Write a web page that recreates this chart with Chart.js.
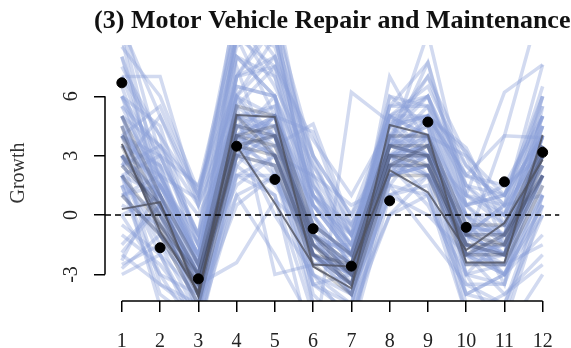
<!DOCTYPE html>
<html>
<head>
<meta charset="utf-8">
<script src="https://cdn.jsdelivr.net/npm/chart.js@4.4.0/dist/chart.umd.min.js"></script>
<style>
  html, body { margin: 0; padding: 0; background: #fff; }
  #wrap { width: 571px; height: 348px; }
</style>
</head>
<body>
<div id="wrap"><canvas id="growthChart" width="571" height="348"></canvas></div>
<script>
// horizon (months ahead)
const months = [1, 2, 3, 4, 5, 6, 7, 8, 9, 10, 11, 12];

// light blue simulated paths
const lightPaths = [
  [9.5, 1.5, -2.5, 9, 9, 0.5, -2, 3.5, 7.7, 1, 0.5, 7.6],
  [7, 7.0, 0.5, 6, 5, 4.2, -1, 2, 5, 3.4, -0.5, 3],
  [5.5, 3.5, -1, 7, 8, 2, -3, 4, 5, 0, -2, 4],
  [2, 3, 1.5, 6.5, 6, 1, -1.5, 5, 4, -0.5, -1, 3.5],
  [4, 2, -2, 5, 4, -1, -4, 3, 3.5, -2, -3, 2],
  [1, -1, -4.5, 3, 2.5, -3, -4.5, 2, 2.5, -3, -2.5, 1],
  [-2.5, -1.5, -5, 2, 3, -2, -3.5, 1.5, 1, -4, -4.5, 0],
  [-3, -2, -4, 1, 2, -4.5, -5, 0, 2, -1, -3, -1],
  [6, 4.5, -1.5, 8, 7, 0, -2.5, 4.5, 6, 1.5, 0, 5],
  [8, 2.5, -3, 9.5, 6.5, 2.5, -1, 3, 4, 0.5, -1.5, 4.5],
  [3.5, 1.5, -2.5, 4.5, 5.5, -0.5, -2, 3.5, 3, -1, -2, 3],
  [2.5, 0.5, -3.5, 3.5, 4, -1.5, -3, 2.5, 3.5, -1.5, -2.5, 2],
  [4.5, -0.5, -4, 4.5, 3, -2, -3.5, 3, 2, -2, -1.5, 3],
  [0, 1, -3, 3, 1.5, -1, -2.5, 2, 4, -2.5, -2, 2.5],
  [-1, -2.5, -5, 2.5, 4.5, -3, -4, 1, 1.5, -3.5, -3.5, 1.5],
  [5, 2, -2, 6, 9, 3, -2, 3.5, 3, 1, 6.2, 7.6],
  [3, 0, -3, 2.5, 1, -7, 6.2, 4.7, 5, 2, 4, 3.9],
  [2, -1, -3.5, -2.4, 0.75, -1, -3, 2, 2.5, -1, -2, 2],
  [1.5, -3, -4, 5.5, -3, -2.5, -2, 3, 1, -4, -3, 0.5],
  [6.5, 1, -3.5, 7.5, 2, -3.5, -3, 7.0, 3.5, -2, -1, 3],
  [4, 2.5, -2.5, 5, 3.5, 4.6, -0.5, 3.5, 9.2, 1, -0.5, 2.5],
  [-1.5, 0.5, -2, 4, 5, 0.5, -2, 5.5, 7.7, 0.5, 1, 4],
  [3, 1, -4, 3.5, 2.5, -2, -3, 4, 4, -2.5, -2.5, -1.5],
  [2, -1.5, -3.5, 5, 4.5, -1, -4, 2.5, 2, -1.5, -2, 4],
  [5, 0, -4.5, 6, 4, -2.5, -2.5, 3.5, 4.5, -3, -1, 2],
  [1, 1.5, -2, 4, 6, 0, -3.5, 4, 2, 0, -3.5, 5.5],
  [0.5, -0.5, -3, 2, 2, -1.5, -1.5, 2.5, 3, -1, 0.5, 1],
  [4, 3, -1.5, 5.5, 7.5, 1.5, -2, 3, 3, -0.5, -2, 3.5],
  [3.5, 2.5, 0, 4, 3, 2, 0.5, 1.5, 4, 3, -1.5, 2],
  [7.5, 4, -2.5, 10, 7, 1, -1, 4, 3, 0.5, 1.5, 5],
  [-2, -3.5, -4.5, 0.5, 2, -2, -4, 1, 0, -2, -4, -2],
  [3, 0.5, -3, 4.5, 4, -1, -2.5, 3, 3.5, -1.5, 4, 11],
  [2.5, 5, 1, 6, 8, 3, 0, 3.5, 5.5, 2.5, 0.5, 4.5],
  [4.5, 1, -4, 3.5, 5, -2, -3, 2.5, 2.5, -2, -2.5, 3],
  [1.5, 0, -3, 3, 3.5, -0.5, -3, 3.5, 3, -1, -1, 2.5],
  [-2.3, 1.5, -1, 4, 3, -1, -3, 2, 3, -1, -2, 2],
  [-1.9, 0.5, -3, 3, 5, -2, -3.5, 3, 2, -2, -3, 1],
  [9, 0, -5, 7, 9.5, 1, -2, 5, 4, -1.5, -2, 3],
  [2, -4.6, -4.5, 4, 2, -3.5, -5, 3, 3, -4, -3, 0],
  [6, 3, -1, 9, 7.5, 3.8, 1, 4.5, 5, 3.2, 0, 6],
  [9.5, 5, 0.5, 10, 10, 2, -1, 5, 6, 2, 1, 6],
  [10, 3, -1, 11, 9, 0.5, -2, 4, 7, 1.5, -0.5, 5],
  [8.5, 6, 1.2, 9, 11, 1.5, -1.5, 6, 5.5, 0.5, 1, 4],
  [7, 4, 1, 8.5, 10, 3, 0, 5, 6.5, 2.5, 0.5, 6.5],
  [5, 3.5, 1.4, 9.5, 8.5, 2.5, -0.5, 4.5, 7, 3, 1, 5.5],
  [6, 2, 0.8, 10.5, 8, 1, -1.5, 5.5, 6, 1, 0, 4],
  [3, 1, -2.5, 7, 10, -1, -2, 4, 6, 0.5, -1, 6],
  [4, 5.5, 1, 8, 6, 1.5, -1, 5, 5, 1.5, 1, 5],
  [2, -2, -5.5, 3, 4, -4.5, -5.5, 2, 3, -4.5, -5, 1],
  [0, -3, -6, 2, 1, -5, -6, 1, 2, -5, -5.5, 0.5],
  [1.5, -4, -5.5, 1, -2, -5.5, -4.5, 0, 1, -5, -4, -2.5],
  [-0.5, -2, -6, 3, 5, -4, -6, 2.5, 0.5, -3, -6, -3],
  [3, -3.5, -5, 4, 0, -3, -5.5, 1.5, -1, -3.5, -4.5, 1],
  [5, 0.5, -5, 6.5, 6, -3.5, -4.5, 3.5, 4, -3, -3.5, 3.5],
  [4, 1.5, -2, 4.5, 4.5, -0.5, -2, 4.5, 5, -0.5, -1, 4.5],
  [3, 2, -1.5, 4, 5, 0, -2.5, 3.5, 4.5, 0, 0, 4],
  [2, 1, -2, 5.5, 4, 0.5, -1.5, 3, 4, -1, 0.5, 3],
  [6, 0.5, -3, 5, 5.5, -1.5, -3, 5, 3, -1, -0.5, 5],
  [1, 2, -2.5, 4, 4, -1, -2, 4.5, 3, 0, -1.5, 2],
  [4, -1, -3, 6, 3, -2, -4, 4, 2.5, -2, -2, 4],
  [7, 2, -3.5, 8, 6, -1.5, -3.5, 6, 4.5, -1.5, -2, 4],
  [2.5, 3.5, 0.5, 5, 5, 1, -0.5, 2.5, 5, 2, 1.5, 3],
  [-2.7, -1, -2.5, 1.5, 3, -1.5, -2.5, 2, 2.5, -1.5, -3, 0.5],
  [5.5, 1.5, -1.5, 7, 7.5, 0.5, -1, 5.5, 5.5, 0, -1, 4.5],
  [8, 1, -4, 9, 5, -2, -3, 3, 5, -2, -1.5, 3.5]
];

// paths in the dense centre of the fan
const corePaths = [
  [3, 0, -3.5, 4, 3.5, -1.5, -3, 3, 3, -1.5, -1.5, 2.5],
  [4, 0.5, -3, 4.5, 4, -1, -2.5, 3.5, 3.5, -1, -1, 3],
  [2, -0.5, -4, 3.5, 3, -2, -3.5, 2.5, 2.5, -2, -2, 2],
  [5, 1, -2.5, 5.5, 5, -0.5, -2, 4, 4, -0.5, -0.5, 3.5],
  [1, -1, -4.5, 3, 2.5, -2.5, -4, 2, 2, -2.5, -2.5, 1.5],
  [3.5, -0.5, -3, 4, 4.5, -1, -3, 3, 2.5, -1.5, -2, 3],
  [2.5, 0.5, -4, 5, 3, -2, -2.5, 3.5, 3, -2, -1, 2],
  [4.5, -1, -3.5, 3.5, 4, -1.5, -3.5, 2.5, 3.5, -1, -1.5, 3.5]
];

// highlighted grey paths
const darkPaths = [
  [0.3, 0.65, -4.1, 5.05, 4.95, -2.6, -3.7, 4.55, 4.05, -2.4, -2.4, 4.05],
  [3.6, -0.8, -3.9, 3.5, 0.6, -2.5, -2.6, 2.27, 1.15, -1.77, -0.4, 2.8]
];

// realised growth
const observed = [6.68, -1.65, -3.22, 3.48, 1.8, -0.69, -2.58, 0.72, 4.7, -0.62, 1.68, 3.17];

const yTicks = [-3, 0, 3, 6];
const xRange = [0.56, 12.44];
const yRange = [-4.34, 8.59];

const serif = "'Liberation Serif', 'DejaVu Serif', serif";

function toPoints(values) {
  return values.map((v, i) => ({ x: months[i], y: v }));
}

let datasets = [];
lightPaths.forEach(p => datasets.push({
  data: toPoints(p), borderColor: "rgba(138,158,216,0.38)", borderWidth: 3.5, order: 5
}));
corePaths.forEach(p => datasets.push({
  data: toPoints(p), borderColor: "rgba(40,44,62,0.24)", borderWidth: 3.5, order: 4
}));
darkPaths.forEach(p => datasets.push({
  data: toPoints(p), borderColor: "rgba(80,82,96,0.8)", borderWidth: 2, order: 3
}));
datasets.push({
  data: [{ x: xRange[0], y: 0 }, { x: xRange[1], y: 0 }],
  borderColor: "#000", borderWidth: 1.5, borderDash: [6, 4], order: 2
});
datasets.push({
  data: toPoints(observed), showLine: false, pointRadius: 5,
  pointBackgroundColor: "#000", pointBorderColor: "#000", order: 1
});

// R-style title and axis lines
const rPlot = {
  id: "rPlot",
  afterDraw(chart) {
    const { ctx, chartArea: a, scales: { x, y } } = chart;
    ctx.save();
    ctx.strokeStyle = "#000";
    ctx.lineWidth = 1.5;
    ctx.beginPath();
    ctx.moveTo(a.left, y.getPixelForValue(yTicks[0]));
    ctx.lineTo(a.left, y.getPixelForValue(yTicks[yTicks.length - 1]));
    ctx.moveTo(x.getPixelForValue(months[0]), a.bottom);
    ctx.lineTo(x.getPixelForValue(months[months.length - 1]), a.bottom);
    ctx.stroke();
    ctx.fillStyle = "#111";
    ctx.font = "bold 26px " + serif;
    ctx.textAlign = "center";
    ctx.textBaseline = "middle";
    ctx.fillText("(3) Motor Vehicle Repair and Maintenance", (a.left + a.right) / 2, 21);
    ctx.restore();
  }
};

chart = new Chart(document.getElementById("growthChart"), {
  type: "line",
  data: { datasets },
  options: {
    responsive: false,
    animation: false,
    layout: { padding: { top: 45, right: 9, left: 0, bottom: 0 } },
    elements: { point: { radius: 0 }, line: { tension: 0 } },
    plugins: { legend: { display: false }, tooltip: { enabled: false } },
    scales: {
      x: {
        type: "linear", min: xRange[0], max: xRange[1],
        afterBuildTicks: s => { s.ticks = months.map(v => ({ value: v })); },
        afterFit: s => { s.height = 47; },
        border: { display: false },
        grid: { drawOnChartArea: false, drawTicks: true, tickLength: 11, color: "#000", lineWidth: 1.5 },
        ticks: { font: { family: serif, size: 20 }, color: "#222", padding: 18, maxRotation: 0, autoSkip: false }
      },
      y: {
        min: yRange[0], max: yRange[1],
        afterBuildTicks: s => { s.ticks = yTicks.map(v => ({ value: v })); },
        afterFit: s => { s.width = 105; },
        border: { display: false },
        grid: { drawOnChartArea: false, drawTicks: true, tickLength: 11, color: "#000", lineWidth: 1.5 },
        ticks: { font: { family: serif, size: 20 }, color: "#222", padding: 14, minRotation: 90, maxRotation: 90, crossAlign: "center" },
        title: { display: true, text: "Growth", font: { family: serif, size: 20 }, color: "#333", padding: { top: 7, bottom: 0 } }
      }
    }
  },
  plugins: [rPlot]
});
</script>
</body>
</html>
